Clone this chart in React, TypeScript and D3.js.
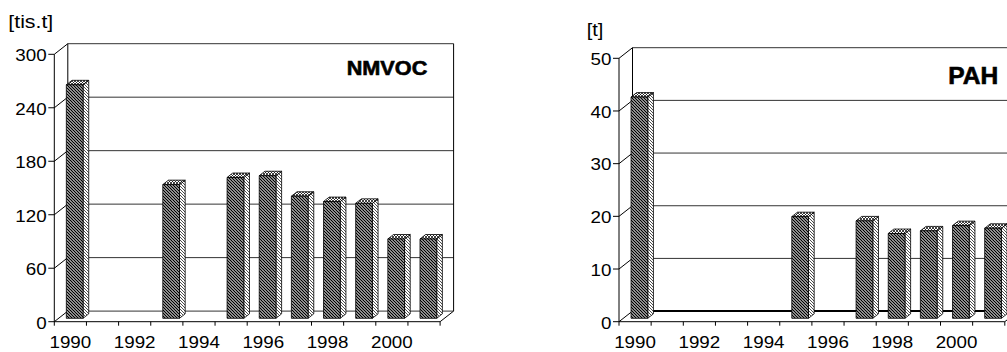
import React from 'react';
import * as d3 from 'd3';

const years = [1990, 1991, 1992, 1993, 1994, 1995, 1996, 1997, 1998, 1999, 2000, 2001];
const yearLabels = [1990, 1992, 1994, 1996, 1998, 2000];
const nmvocValues: (number | null)[] = [262, null, null, 150, null, 158, 160, 137, 131, 129, 89, 89];
const pahValues: (number | null)[] = [42, null, null, null, null, 19.3, null, 18.5, 16.1, 16.6, 17.6, 17.1];
const nmvocTicks = [0, 60, 120, 180, 240, 300];
const pahTicks = [0, 10, 20, 30, 40, 50];

const FONT = "Arial, 'Liberation Sans', sans-serif";
const STEP = 32.15;
const W = STEP * years.length;
const DX = 13.5;
const DY = -10.6;
const F1 = 0.32;
const F2 = 0.74;
const Y_BASE = 321.7;
const CHAR_W = 10.45;

type PanelProps = {
  axisX: number;
  plotH: number;
  values: (number | null)[];
  ticks: number[];
  unit: string;
  unitX: number;
  unitY: number;
  unitW: number;
  title: string;
  titleX: number;
  titleY: number;
  titleW: number;
  titleSize: number;
  thickFloor?: boolean;
};

function Panel(p: PanelProps) {
  const max = p.ticks[p.ticks.length - 1];
  const x = d3.scaleBand<number>().domain(years).range([p.axisX, p.axisX + W]).paddingInner(0.48).paddingOuter(0.24);
  const yAt = (f: number) => d3.scaleLinear().domain([0, max]).range([Y_BASE + DY * f, Y_BASE + DY * f - p.plotH]);
  const yFront = yAt(0);
  const yBack = yAt(1);
  const y1 = yAt(F1);
  const bx = p.axisX + DX;
  const bw = x.bandwidth();
  const sdx = DX * (F2 - F1);
  const sdy = DY * (F2 - F1);
  return (
    <g>
      {p.ticks.map((t, i) => (
        <line key={'g' + t} x1={bx} x2={bx + W} y1={yBack(t)} y2={yBack(t)}
          stroke={i === 0 && p.thickFloor ? '#000' : '#333'} strokeWidth={i === 0 && p.thickFloor ? 2 : 1} />
      ))}
      {p.ticks.map((t) => (
        <line key={'d' + t} x1={p.axisX} x2={bx} y1={yFront(t)} y2={yBack(t)} stroke="#000" strokeWidth={1} />
      ))}
      <line x1={bx} x2={bx} y1={yBack(0)} y2={yBack(max)} stroke="#000" strokeWidth={1} />
      <line x1={bx + W} x2={bx + W} y1={yBack(0)} y2={yBack(max)} stroke="#000" strokeWidth={1} />
      <line x1={p.axisX} x2={p.axisX + W} y1={Y_BASE} y2={Y_BASE} stroke="#000" strokeWidth={1} />
      <line x1={p.axisX + W} x2={p.axisX + W + DX} y1={Y_BASE} y2={Y_BASE + DY} stroke="#000" strokeWidth={1} />
      <line x1={p.axisX} x2={p.axisX} y1={yFront(0)} y2={yFront(max)} stroke="#000" strokeWidth={1} />
      {p.ticks.map((t) => (
        <g key={'t' + t}>
          <line x1={p.axisX - 6} x2={p.axisX} y1={yFront(t)} y2={yFront(t)} stroke="#000" strokeWidth={1} />
          <text x={p.axisX - 7.6} y={yFront(t) + 6.8} textAnchor="end" fontFamily={FONT} fontSize={16.3}
            textLength={String(t).length * CHAR_W} lengthAdjust="spacingAndGlyphs">{t}</text>
        </g>
      ))}
      {d3.range(years.length + 1).map((i) => (
        <line key={'x' + i} x1={p.axisX + i * STEP} x2={p.axisX + i * STEP} y1={Y_BASE} y2={Y_BASE + 4} stroke="#000" strokeWidth={1} />
      ))}
      {yearLabels.map((yr) => (
        <text key={'l' + yr} x={(x(yr) as number) + bw / 2} y={348.3} textAnchor="middle" fontFamily={FONT} fontSize={16.3}
          textLength={4 * CHAR_W} lengthAdjust="spacingAndGlyphs">{yr}</text>
      ))}
      {years.map((yr, i) => {
        const v = p.values[i];
        if (v == null) return null;
        const x0 = (x(yr) as number) + DX * F1;
        const x1 = x0 + bw;
        const yt = y1(v);
        const yb = y1(0);
        return (
          <g key={'b' + yr} stroke="#000" strokeWidth={0.8} strokeLinejoin="round">
            <polygon points={`${x1},${yb} ${x1 + sdx},${yb + sdy} ${x1 + sdx},${yt + sdy} ${x1},${yt}`} fill="url(#sidePat)" />
            <polygon points={`${x0},${yt} ${x1},${yt} ${x1 + sdx},${yt + sdy} ${x0 + sdx},${yt + sdy}`} fill="url(#topPat)" />
            <rect x={x0} y={yt} width={bw} height={yb - yt} fill="url(#frontPat)" />
          </g>
        );
      })}
      <text x={p.unitX} y={p.unitY} fontFamily={FONT} fontSize={17.5} textLength={p.unitW} lengthAdjust="spacingAndGlyphs">{p.unit}</text>
      <text x={p.titleX} y={p.titleY} fontFamily={FONT} fontWeight="bold" fontSize={p.titleSize}
        stroke="#000" strokeWidth={0.6} textLength={p.titleW} lengthAdjust="spacingAndGlyphs">{p.title}</text>
    </g>
  );
}

export default function App() {
  return (
    <svg width={1007} height={352} style={{ position: 'absolute', left: 0, top: 0, background: '#fff' }}>
      <defs>
        <pattern id="frontPat" width={3} height={3} patternUnits="userSpaceOnUse">
          <rect width={3} height={3} fill="#fff" />
          <path d="M0,0 L3,3 M-1,2 L1,4 M2,-1 L4,1" stroke="#000" strokeWidth={1.3} />
        </pattern>
        <pattern id="sidePat" width={3} height={3} patternUnits="userSpaceOnUse">
          <rect width={3} height={3} fill="#fff" />
          <path d="M0,0 L3,3 M-1,2 L1,4 M2,-1 L4,1" stroke="#222" strokeWidth={0.8} />
        </pattern>
        <pattern id="topPat" width={3} height={3} patternUnits="userSpaceOnUse">
          <rect width={3} height={3} fill="#fff" />
          <path d="M0,0 L3,3 M3,0 L0,3" stroke="#111" strokeWidth={0.8} />
        </pattern>
      </defs>
      <Panel axisX={54.3} plotH={267.4} values={nmvocValues} ticks={nmvocTicks}
        unit="[tis.t]" unitX={8.3} unitY={28} unitW={45}
        title="NMVOC" titleX={346.7} titleY={75.3} titleW={80.6} titleSize={20} />
      <Panel axisX={619} plotH={263.4} values={pahValues} ticks={pahTicks}
        unit="[t]" unitX={586.7} unitY={35.8} unitW={16.7}
        title="PAH" titleX={948.3} titleY={84.3} titleW={50} titleSize={23} thickFloor />
    </svg>
  );
}
